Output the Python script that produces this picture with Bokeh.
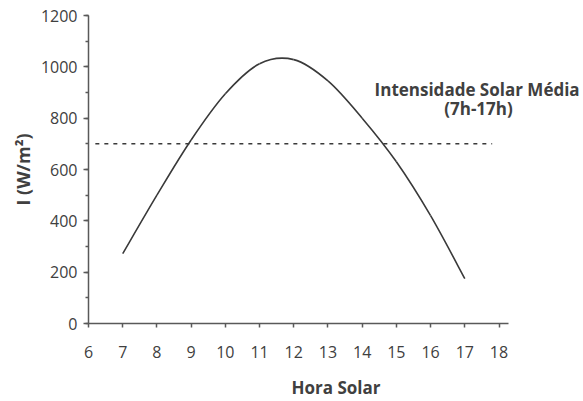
import numpy as np
from bokeh.plotting import figure
from bokeh.models import FixedTicker, SingleIntervalTicker, Label, Range1d
from bokeh.embed import file_html
from bokeh.resources import INLINE

# ---- data ----
hours = [7, 8, 9, 10, 11, 12, 13, 14, 15, 16, 17]
intensity = [272, 500, 715, 895, 1012, 1028, 945, 800, 630, 420, 175]
mean_hours = [6.2, 17.8]
mean_intensity = [700, 700]
x_ticks = [6, 7, 8, 9, 10, 11, 12, 13, 14, 15, 16, 17, 18]
annotation_lines = ["Intensidade Solar Média", "(7h-17h)"]
x_title = "Hora Solar"
y_title = "I (W/m²)"

FONT = "Open Sans"
TXT = "#404040"
AX = "#595959"

p = figure(width=583, height=401, x_range=Range1d(6, 20.47), y_range=Range1d(0, 1200),
           output_backend="svg", toolbar_location=None,
           min_border_left=88, min_border_right=0, min_border_top=15, min_border_bottom=77)
p.outline_line_color = None
p.xgrid.grid_line_color = None
p.ygrid.grid_line_color = None
p.background_fill_color = "white"
p.border_fill_color = "white"

# smoothed line (Excel-style) via cubic Bezier segments through the data points
hx = np.array(hours, dtype=float)
hy = np.array(intensity, dtype=float)
px = np.concatenate([[hx[0]], hx, [hx[-1]]])
py = np.concatenate([[hy[0]], hy, [hy[-1]]])
n = len(hx)
x0 = hx[:-1]; y0 = hy[:-1]; x1 = hx[1:]; y1 = hy[1:]
cx0 = x0 + (px[2:n + 1] - px[0:n - 1]) / 6.0
cy0 = y0 + (py[2:n + 1] - py[0:n - 1]) / 6.0
cx1 = x1 - (px[3:n + 2] - px[1:n]) / 6.0
cy1 = y1 - (py[3:n + 2] - py[1:n]) / 6.0
p.bezier(x0=x0, y0=y0, x1=x1, y1=y1, cx0=cx0, cy0=cy0, cx1=cx1, cy1=cy1,
         line_color="#3a3a3a", line_width=1.6)

p.line(mean_hours, mean_intensity, line_color="#3a3a3a", line_width=1.5, line_dash="4 5")

p.add_layout(Label(x=17.36, y=913, text=annotation_lines[0], text_align="center",
                   text_baseline="middle", text_font=FONT, text_font_style="bold",
                   text_font_size="17px", text_color=TXT))
p.add_layout(Label(x=17.4, y=837, text=annotation_lines[1], text_align="center",
                   text_baseline="middle", text_font=FONT, text_font_style="bold",
                   text_font_size="17px", text_color=TXT))

# axes
xa = p.xaxis[0]
xa.ticker = FixedTicker(ticks=x_ticks)
xa.bounds = (6, 18.28)
xa.axis_label = x_title
ya = p.yaxis[0]
ya.ticker = SingleIntervalTicker(interval=200, num_minor_ticks=2)
ya.axis_label = y_title
for ax in (xa, ya):
    ax.axis_line_color = AX
    ax.axis_line_width = 1.5
    ax.major_tick_line_color = AX
    ax.major_tick_line_width = 1.5
    ax.major_tick_in = 0
    ax.major_label_text_font = FONT
    ax.major_label_text_font_size = "16px"
    ax.major_label_text_color = TXT
    ax.axis_label_text_font = FONT
    ax.axis_label_text_font_style = "bold"
    ax.axis_label_text_color = TXT
xa.axis_label_text_font_size = "17px"
ya.axis_label_text_font_size = "18px"
xa.major_tick_out = 4
xa.minor_tick_line_color = None
xa.major_label_standoff = 18
xa.axis_label_standoff = 15
ya.major_tick_out = 5
ya.minor_tick_in = 0
ya.minor_tick_out = 3
ya.minor_tick_line_color = AX
ya.minor_tick_line_width = 1.5
ya.major_label_standoff = 6
ya.axis_label_standoff = 3

open("out.html", "w").write(file_html(p, INLINE))
